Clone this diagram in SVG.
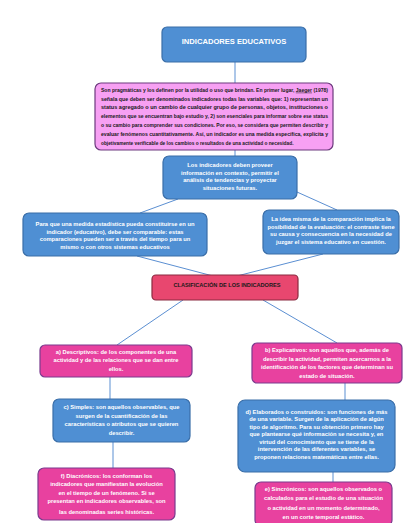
<svg xmlns="http://www.w3.org/2000/svg" width="411" height="523" viewBox="0 0 411 523">
<style>
text{font-family:"Liberation Sans",Arial,sans-serif;font-weight:bold;}
.blue{fill:#4f8fd3;stroke:#3a6ea8;stroke-width:1.2;}
.pink{fill:#e8419f;stroke:#7a3b8e;stroke-width:1.2;}
.lpink{fill:#f7a0f3;stroke:#6d3a7e;stroke-width:1.2;}
.red{fill:#e8476f;stroke:#8a2a40;stroke-width:1.2;}
.w{fill:#ffffff;font-size:5.75px;text-anchor:middle;}
.k{fill:#1a1a1a;font-size:4.8px;}
.conn line{stroke:#5b8fd2;stroke-width:1;}
</style>
<rect x="0" y="0" width="411" height="523" fill="#ffffff"/>
<g class="conn" id="connectors">
<line x1="235" y1="62" x2="235" y2="83"/>
<line x1="235" y1="150" x2="235" y2="156"/>
<line x1="178" y1="199" x2="140" y2="213"/>
<line x1="297" y1="192" x2="337" y2="210"/>
<line x1="137" y1="256" x2="213" y2="276"/>
<line x1="323" y1="254" x2="237" y2="276"/>
<line x1="183" y1="300" x2="117" y2="345"/>
<line x1="263" y1="300" x2="337" y2="343"/>
<line x1="110" y1="377" x2="110" y2="399"/>
<line x1="345" y1="383" x2="345" y2="400"/>
<line x1="113" y1="442" x2="113" y2="468"/>
<line x1="333" y1="472" x2="333" y2="482"/>
</g>
<g id="title">
<rect class="blue" x="162" y="27" width="144" height="35" rx="5"/>
<text class="w" x="234" y="43.5" style="font-size:7.6px">INDICADORES EDUCATIVOS</text>
</g>
<g id="definicion">
<rect class="lpink" x="95" y="83" width="238" height="67" rx="6"/>
<text class="k" x="101" y="91.7" textLength="227" lengthAdjust="spacingAndGlyphs">Son pragmáticas y los definen por la utilidad o uso que brindan. En primer lugar, <tspan text-decoration="underline">Jaeger</tspan> (1978)</text>
<text class="k" x="101" y="100.5" textLength="227" lengthAdjust="spacingAndGlyphs">señala que deben ser denominados indicadores todas las variables que: 1) representan un</text>
<text class="k" x="101" y="109.3" textLength="227" lengthAdjust="spacingAndGlyphs">status agregado o un cambio de cualquier grupo de personas, objetos, instituciones o</text>
<text class="k" x="101" y="118.1" textLength="227" lengthAdjust="spacingAndGlyphs">elementos que se encuentran bajo estudio y, 2) son esenciales para informar sobre ese status</text>
<text class="k" x="101" y="126.9" textLength="227" lengthAdjust="spacingAndGlyphs">o su cambio para comprender sus condiciones. Por eso, se considera que permiten describir y</text>
<text class="k" x="101" y="135.7" textLength="227" lengthAdjust="spacingAndGlyphs">evaluar fenómenos cuantitativamente. Así, un indicador es una medida específica, explícita y</text>
<text class="k" x="101" y="144.5">objetivamente verificable de los cambios o resultados de una actividad o necesidad.</text>
</g>
<g id="contexto">
<rect class="blue" x="163" y="156" width="134" height="43" rx="6"/>
<text class="w" x="230" y="167">Los indicadores deben proveer</text>
<text class="w" x="230" y="174.7">información en contexto, permitir el</text>
<text class="w" x="230" y="182.4">análisis de tendencias y proyectar</text>
<text class="w" x="230" y="190.1">situaciones futuras.</text>
</g>
<g id="comparable">
<rect class="blue" x="23" y="213" width="184" height="43" rx="6"/>
<text class="w" x="115" y="226">Para que una medida estadística pueda constituirse en un</text>
<text class="w" x="115" y="233.7">indicador (educativo), debe ser comparable: estas</text>
<text class="w" x="115" y="241.4">comparaciones pueden ser a través del tiempo para un</text>
<text class="w" x="115" y="249.1">mismo o con otros sistemas educativos</text>
</g>
<g id="comparacion">
<rect class="blue" x="263" y="210" width="136" height="44" rx="6"/>
<text class="w" x="331" y="221">La idea misma de la comparación implica la</text>
<text class="w" x="331" y="228.7">posibilidad de la evaluación: el contraste tiene</text>
<text class="w" x="331" y="236.4">su causa y consecuencia en la necesidad de</text>
<text class="w" x="331" y="244.1">juzgar el sistema educativo en cuestión.</text>
</g>
<g id="clasificacion">
<rect class="red" x="152" y="275" width="146" height="25" rx="4"/>
<text x="227" y="287" style="font-size:5.6px;fill:#1a1a1a;text-anchor:middle">CLASIFICACIÓN DE LOS INDICADORES</text>
</g>
<g id="descriptivos">
<rect class="pink" x="40" y="345" width="152" height="32" rx="5"/>
<text class="w" x="116" y="354">a) Descriptivos: de los componentes de una</text>
<text class="w" x="116" y="362">actividad y de las relaciones que se dan entre</text>
<text class="w" x="116" y="370.5">ellos.</text>
</g>
<g id="explicativos">
<rect class="pink" x="252" y="343" width="150" height="40" rx="5"/>
<text class="w" x="327" y="352">b) Explicativos: son aquellos que, además de</text>
<text class="w" x="327" y="360.5">describir la actividad, permiten acercarnos a la</text>
<text class="w" x="327" y="369">identificación de los factores que determinan su</text>
<text class="w" x="327" y="377.5">estado de situación.</text>
</g>
<g id="simples">
<rect class="blue" x="53" y="399" width="137" height="43" rx="6"/>
<text class="w" x="121.5" y="409">c) Simples: son aquellos observables, que</text>
<text class="w" x="121.5" y="417.5">surgen de la cuantificación de las</text>
<text class="w" x="121.5" y="426">características o atributos que se quieren</text>
<text class="w" x="121.5" y="434.5">describir.</text>
</g>
<g id="elaborados">
<rect class="blue" x="238" y="400" width="157" height="72" rx="7"/>
<text class="w" x="316.5" y="413.5">d) Elaborados o construidos: son funciones de más</text>
<text class="w" x="316.5" y="421">de una variable. Surgen de la aplicación de algún</text>
<text class="w" x="316.5" y="428.5">tipo de algoritmo. Para su obtención primero hay</text>
<text class="w" x="316.5" y="436">que plantearse qué información se necesita y, en</text>
<text class="w" x="316.5" y="443.5">virtud del conocimiento que se tiene de la</text>
<text class="w" x="316.5" y="451">intervención de las diferentes variables, se</text>
<text class="w" x="316.5" y="458.5">proponen relaciones matemáticas entre ellas.</text>
</g>
<g id="diacronicos">
<rect class="pink" x="38" y="468" width="137" height="52" rx="6"/>
<text class="w" x="106.5" y="478">f) Diacrónicos: los conforman los</text>
<text class="w" x="106.5" y="486">indicadores que manifiestan la evolución</text>
<text class="w" x="106.5" y="495">en el tiempo de un fenómeno. Si se</text>
<text class="w" x="106.5" y="503">presentan en indicadores observables, son</text>
<text class="w" x="106.5" y="514">las denominadas series históricas.</text>
</g>
<g id="sincronicos">
<rect class="pink" x="255" y="482" width="137" height="44" rx="6"/>
<text class="w" x="323.5" y="491">e) Sincrónicos: son aquellos observados o</text>
<text class="w" x="323.5" y="500">calculados para el estudio de una situación</text>
<text class="w" x="323.5" y="510">o actividad en un momento determinado,</text>
<text class="w" x="323.5" y="519">en un corte temporal estático.</text>
</g>
</svg>
